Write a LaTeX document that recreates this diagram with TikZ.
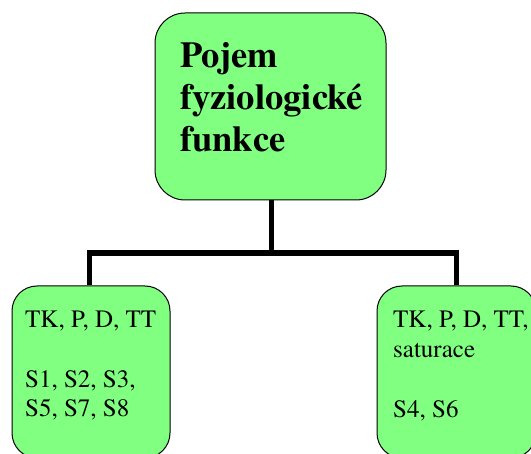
\documentclass[tikz,border=0pt]{standalone}
\usepackage{fontspec}
\setmainfont{texgyretermes}[Extension=.otf, UprightFont=*-regular, BoldFont=*-bold, ItalicFont=*-italic, BoldItalicFont=*-bolditalic]
\definecolor{boxgreen}{RGB}{128,255,128}
\begin{document}
\begin{tikzpicture}[x=1pt,y=-1pt,
  box/.style={draw=black, line width=1pt, fill=boxgreen, rounded corners=#1, inner sep=0pt},
  conn/.style={draw=black, line width=5.5pt, line join=miter},
  head/.style={anchor=base west, inner sep=0pt, font=\bfseries\fontsize{36.5}{42}\selectfont},
  txt/.style={anchor=base west, inner sep=0pt, font=\fontsize{25}{30}\selectfont}]
\useasboundingbox (0,0) rectangle (531,454);
\clip (0,0) rectangle (531,454);

% boxes
\node[box=30pt, minimum width=231pt, minimum height=187pt] (root) at (270.5,106.5) {};
\node[box=25pt, minimum width=158pt, minimum height=172pt] (left) at (91,372) {};
\node[box=25pt, minimum width=159pt, minimum height=172pt] (right) at (456.5,372) {};

% tree connectors
\coordinate (bar) at (0,253);
\draw[conn] ([xshift=1pt]root.south) -- ([xshift=1pt]root.south |- bar);
\draw[conn] ([xshift=-1.5pt]left.north) |- (bar -| right.north) -- (right.north);

% root caption
\node[head] (r1) at (180,68) {Pojem};
\node[head] (r2) at (180,110) {fyziologické};
\node[head] (r3) at (180,152) {funkce};

% left leaf
\node[txt] (l1) at (25,328) {TK, P, D, TT};
\node[txt] (l2) at (25,387.5) {S1, S2, S3,};
\node[txt] (l3) at (25,417) {S5, S7, S8};

% right leaf
\node[txt] (q1) at (393,328) {TK, P, D, TT,};
\node[txt] (q2) at (393,357.5) {saturace};
\node[txt] (q3) at (393,418) {S4, S6};
\end{tikzpicture}
\end{document}
